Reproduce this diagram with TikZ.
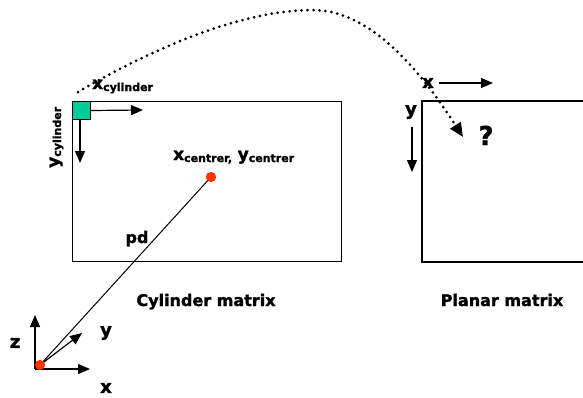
\documentclass[tikz,border=0pt]{standalone}
\usepackage{fontspec}
\setmainfont{DejaVu Sans}[BoldFeatures={FakeBold=1.5}]
\usetikzlibrary{arrows.meta}
\definecolor{dotred}{RGB}{255,51,0}
\definecolor{sqgreen}{RGB}{0,204,153}
\tikzset{
  arr/.style={line width=1.2pt, -{Triangle[length=12pt,width=10pt]}},
  mbox/.style={draw, line width=1.3pt, inner sep=0pt, anchor=north west},
  lbl/.style={font=\bfseries\fontsize{16}{16}\selectfont, inner sep=0pt},
  biglbl/.style={font=\bfseries\fontsize{18}{18}\selectfont, inner sep=0pt},
  rdot/.style={circle, fill=dotred, inner sep=0pt, minimum size=10pt},
  dotline/.style={line width=3pt, dash pattern=on 0pt off 6pt, line cap=round,
     -{Triangle[length=14pt,width=12pt]}},
}
\newcommand{\subl}[2]{{\fontsize{17}{17}\selectfont #1}\raisebox{-2pt}{\fontsize{11}{11}\selectfont #2}}
\begin{document}
\begin{tikzpicture}[x=1pt,y=-1pt]
\useasboundingbox (0,0) rectangle (583,397);
% cylinder matrix
\node[mbox, minimum width=269pt, minimum height=160pt] (cyl) at (72,101) {};
\node[mbox, fill=sqgreen, line width=1pt, minimum size=18pt] (sq) at (72,101) {};
\coordinate (xcend) at (143,110);
\coordinate (ycend) at (80,163);
\draw[arr] (sq.east) -- (xcend);
\draw[arr] (sq.south -| ycend) -- (ycend);
\node[lbl, anchor=base west] (xcyl) at (92,89) {\subl{x}{cylinder}};
\node[lbl, anchor=base west, rotate=90] (ycyl) at (59,168) {\subl{y}{cylinder}};
\node[lbl, anchor=base west] (xcen) at (173,160) {\subl{x}{centrer,} \subl{y}{centrer}};
\node[rdot] (c) at (211,177) {};
\node[lbl, anchor=base] (title1) at (206,306) {Cylinder matrix};
% planar matrix
\coordinate (p1) at (583,101);
\coordinate (p2) at (422,101);
\coordinate (p3) at (422,262);
\coordinate (p4) at (583,262);
\draw[line width=1.3pt] (p1) -- (p2) -- (p3) -- (p4);
\node[biglbl] (px) at (428,83) {x};
\node[biglbl] (py) at (411,112) {y};
\coordinate (pxs) at (439,83);
\coordinate (pxe) at (493,83);
\coordinate (pys) at (412,127);
\coordinate (pye) at (412,172);
\draw[arr] (pxs) -- (pxe);
\draw[arr] (pys) -- (pye);
\node[font=\bfseries\fontsize{26}{26}\selectfont, inner sep=0pt, anchor=base] (q) at (486,145) {?};
\node[lbl, anchor=base] (title2) at (502,306) {Planar matrix};
% origin and axes
\node[rdot] (o) at (40,365) {};
\coordinate (ax) at (35,369);
\coordinate (zend) at (35,315);
\coordinate (xend) at (90,369);
\coordinate (yend) at (82,333);
\draw[arr] (ax) -- (zend);
\draw[arr] (ax) -- (xend);
\draw[arr] (o.center) -- (yend);
\draw[line width=1pt] (o.center) -- (c.center);
\node[rdot] at (40,365) {};
\node[rdot] at (211,177) {};
\node[lbl, anchor=base] (pd) at (137,243) {pd};
\node[biglbl] (zl) at (15,343) {z};
\node[biglbl] (yl) at (106,333) {y};
\node[biglbl] (xl) at (106,388) {x};
% dotted mapping curve
\coordinate (ds) at (78,92);
\coordinate (dp) at (313,10);
\coordinate (de) at (463,137);
\draw[dotline] (ds) .. controls (150,50) and (240,10) .. (dp) .. controls (370,10) and (420,70) .. (de);
\end{tikzpicture}
\end{document}
